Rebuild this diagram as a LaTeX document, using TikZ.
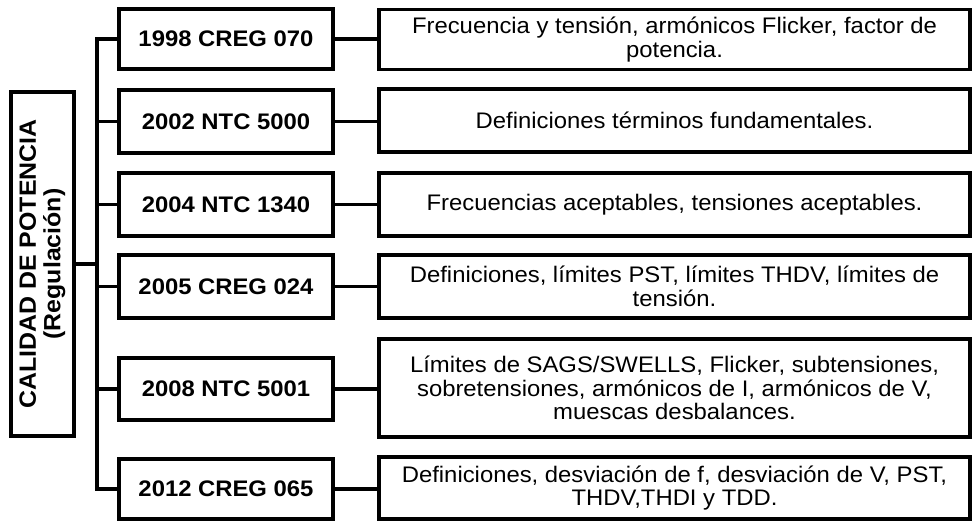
\documentclass[tikz,border=0pt]{standalone}
\usepackage{fontspec}
\setmainfont{Liberation Sans}[FakeStretch=1.06]
\begin{document}
\begin{tikzpicture}[x=1pt,y=1pt,
  box/.style={draw=black, line width=3.6pt, fill=white, inner sep=0pt, align=center},
  mainbox/.style={box, rotate=90, minimum width=344, minimum height=63,
     font=\fontsize{23.5}{24.5}\selectfont\bfseries},
  midbox/.style={box, minimum width=214, minimum height=60,
     font=\fontsize{22.5}{23.5}\selectfont\bfseries},
  descbox/.style={box, minimum width=591, minimum height=60,
     font=\fontsize{22.5}{23.5}\selectfont},
  link/.style={line width=3.6pt, line join=miter}]
\useasboundingbox (0,0) rectangle (974,-522);

\node[mainbox] (main) at (42.5,-264) {CALIDAD DE POTENCIA\\(Regulación)};

\node[midbox] (m1) at (226,-39)   {1998 CREG 070};
\node[midbox, minimum height=63] (m2) at (226,-121.5) {2002 NTC 5000};
\node[midbox, minimum height=63] (m3) at (226,-204.5) {2004 NTC 1340};
\node[midbox, minimum height=63] (m4) at (226,-286.5) {2005 CREG 024};
\node[midbox, minimum height=62] (m5) at (226,-389)   {2008 NTC 5001};
\node[midbox] (m6) at (226,-489)   {2012 CREG 065};

\node[descbox] (d1) at (674.5,-39.5) {Frecuencia y tensión, armónicos Flicker, factor de\\potencia.};
\node[descbox, minimum height=63] (d2) at (674.5,-120.5) {Definiciones términos fundamentales.};
\node[descbox, minimum height=63] (d3) at (674.5,-204.5) {Frecuencias aceptables, tensiones aceptables.};
\node[descbox, minimum height=63] (d4) at (674.5,-286.5) {Definiciones, límites PST, límites THDV, límites de\\tensión.};
\node[descbox, minimum height=98] (d5) at (674.5,-388) {Límites de SAGS/SWELLS, Flicker, subtensiones,\\sobretensiones, armónicos de I, armónicos de V,\\muescas desbalances.};
\node[descbox, minimum height=62] (d6) at (674.5,-488) {Definiciones, desviación de f, desviación de V, PST,\\THDV,THDI y TDD.};

\coordinate (trunk) at (97,0);

\draw[link] (m1.west) -- (m1.west -| trunk) -- (m6.west -| trunk) -- (m6.west);
\foreach \i in {2,3,4,5}{
  \draw[link] (m\i.west) -- (m\i.west -| trunk);
}
\draw[link] (main.south) -- (main.south -| trunk);

\foreach \i in {1,...,6}{
  \draw[link] (m\i.east) -- (m\i.east -| d\i.west);
}
\end{tikzpicture}
\end{document}
